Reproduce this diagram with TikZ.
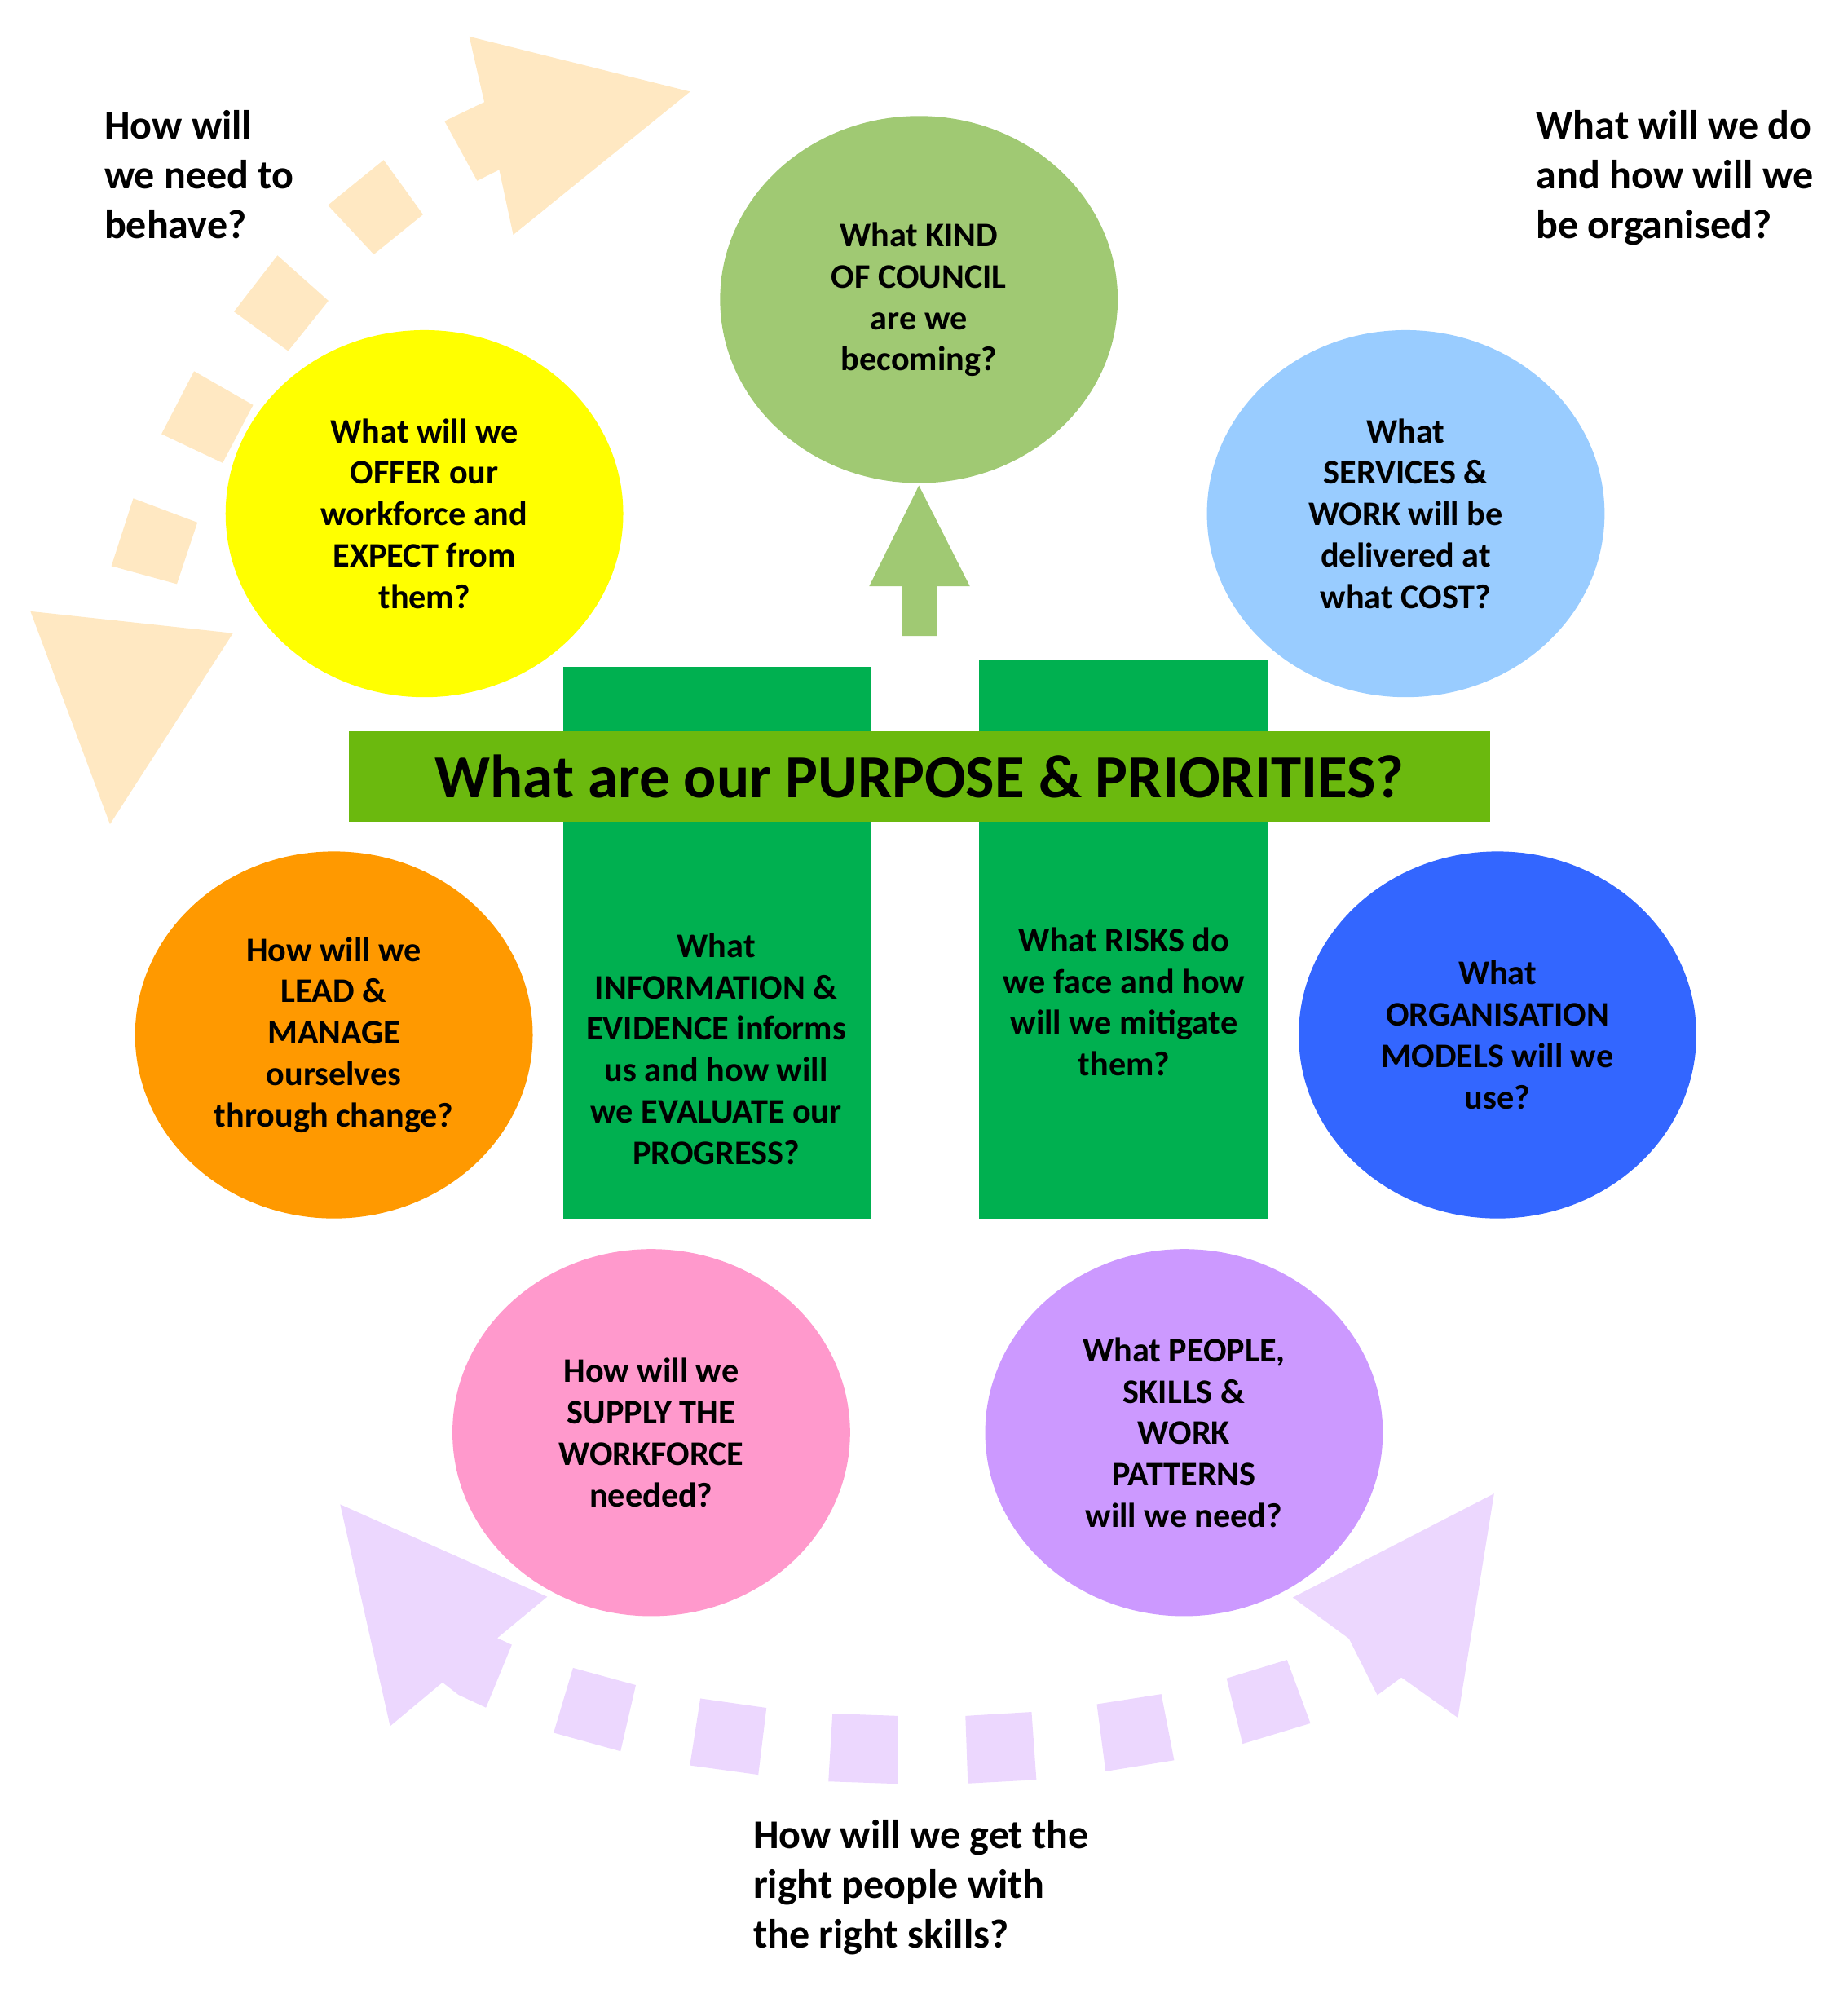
\documentclass[tikz,border=0pt]{standalone}
\usepackage{fontspec}
\setmainfont{Carlito}
\usetikzlibrary{shapes.geometric}
\definecolor{peach}{HTML}{FFE8C2}
\definecolor{skyarrow}{HTML}{BFDFFF}
\definecolor{lavender}{HTML}{ECD7FE}
\definecolor{lgreen}{HTML}{A0C973}
\definecolor{titlegreen}{HTML}{6BB90E}
\definecolor{dgreen}{HTML}{00B050}
\definecolor{cyellow}{HTML}{FFFF00}
\definecolor{clblue}{HTML}{99CCFF}
\definecolor{corange}{HTML}{FF9900}
\definecolor{cblue}{HTML}{3366FF}
\definecolor{cpink}{HTML}{FF99CC}
\definecolor{cpurple}{HTML}{CC99FF}
\tikzset{
  bub/.style={ellipse, inner sep=0pt, minimum width=156pt, minimum height=144pt, align=center,
    font=\fontsize{13.5}{16.25}\selectfont\bfseries},
  boxtext/.style={inner sep=0pt, align=center, font=\fontsize{13.5}{16.25}\selectfont\bfseries},
  outer/.style={inner sep=0pt, align=left, anchor=base west, font=\fontsize{16}{19.5}\selectfont\bfseries},
  leftarc/.pic={
    \fill (104.6,391) -- (154.9,409.9) -- (138.8,458.2) -- (87.4,444.1) -- cycle;
    \fill (152.3,291.2) -- (198.6,317.8) -- (174.7,363.2) -- (126.7,340.5) -- cycle;
    \fill (217.7,200.4) -- (257.7,236) -- (226.1,275.4) -- (183.6,244.5) -- cycle;
    \fill (301,125.5) -- (331.9,168.3) -- (293.3,199.6) -- (257.3,161) -- cycle;
    \fill (368.2,28.7) -- (541.5,71.9) -- (402.7,184.2) -- (391.7,133.2) -- (374.4,141.8) -- (348.8,95.1) -- (380,80.1) -- cycle;
    \fill (23.9,479.6) -- (182.8,496.8) -- (86.3,646.7) -- cycle;
  }
}
\begin{document}
\begin{tikzpicture}[x=0.5pt,y=-0.5pt]
\useasboundingbox (0,0) rectangle (1450,1564.5);
% top-left peach dashed arc arrow
\pic[fill=peach] {leftarc};
% top-right blue dashed arc arrow (mirror)
\begin{scope}[xshift=717.05pt, xscale=-1]
\pic[fill=skyarrow] {leftarc};
\end{scope}
% bottom lavender dashed arc arrow
\begin{scope}[fill=lavender]
\fill (266.9,1180.3) -- (429.4,1252.8) -- (390.2,1285.2) -- (401.6,1290.5) -- (381.3,1339.8) -- (359.8,1329.8) -- (347.2,1320) -- (306.1,1354.3) -- cycle;
\fill (449.6,1308.6) -- (498.9,1322.1) -- (486.9,1374.0) -- (434.4,1359.5) -- cycle;
\fill (549.5,1332.6) -- (601.4,1340.0) -- (595.0,1392.5) -- (541.3,1385.1) -- cycle;
\fill (653.2,1344.5) -- (704.4,1346.3) -- (704.4,1399.6) -- (650.0,1397.7) -- cycle;
\fill (757.5,1346.3) -- (809.4,1343.2) -- (813.2,1396.4) -- (759.4,1399.3) -- cycle;
\fill (860.6,1337.1) -- (911.2,1329.2) -- (921.3,1381.1) -- (867.5,1389.8) -- cycle;
\fill (962.4,1316.8) -- (1009.8,1302.3) -- (1028.2,1352.1) -- (975.0,1368.2) -- cycle;
\fill (1172.3,1171.9) -- (1143.9,1347.7) -- (1099.6,1316.1) -- (1080.7,1330) -- (1058.5,1285.7) -- (1014.3,1253.4) -- cycle;
\end{scope}
% central green boxes
\fill[dgreen] (442,523) rectangle (683,956);
\fill[dgreen] (768,518) rectangle (995,956);
\node[rectangle, fill=titlegreen, minimum width=447.5pt, minimum height=35.5pt, inner sep=0pt,
  font=\fontsize{24}{29}\selectfont\bfseries] (title) at (721.5,609.5) {What are our PURPOSE \& PRIORITIES?};
\node[boxtext] (info) at (562,823) {What\\INFORMATION \&\\EVIDENCE informs\\us and how will\\we EVALUATE our\\PROGRESS?};
\node[boxtext] (risks) at (882,786) {What RISKS do\\we face and how\\will we mitigate\\them?};
% up arrow
\fill[lgreen] (721,381) -- (761,460) -- (735,460) -- (735,499) -- (708,499) -- (708,460) -- (682,460) -- cycle;
% ellipses
\node[bub, fill=lgreen] (council) at (721,235) {What KIND\\OF COUNCIL\\are we\\becoming?};
\node[bub, fill=cyellow] (offer) at (333,403) {What will we\\OFFER our\\workforce and\\EXPECT from\\them?};
\node[bub, fill=clblue] (services) at (1103,403) {What\\SERVICES \&\\WORK will be\\delivered at\\what COST?};
\node[bub, fill=corange] (lead) at (262,812) {How will we\\LEAD \&\\MANAGE\\ourselves\\through change?};
\node[bub, fill=cblue] (models) at (1175,812) {What\\ORGANISATION\\MODELS will we\\use?};
\node[bub, fill=cpink] (supply) at (511,1124) {How will we\\SUPPLY THE\\WORKFORCE\\needed?};
\node[bub, fill=cpurple] (people) at (929,1124) {What PEOPLE,\\SKILLS \&\\WORK\\PATTERNS\\will we need?};
% outer labels (anchored at the baseline of their last line)
\node[outer] (behave) at (81.5,187) {How will\\we need to\\behave?};
\node[outer] (organised) at (1205,187) {What will we do\\and how will we\\be organised?};
\node[outer] (rightpeople) at (590.6,1528.5) {How will we get the\\right people with\\the right skills?};
\end{tikzpicture}
\end{document}
